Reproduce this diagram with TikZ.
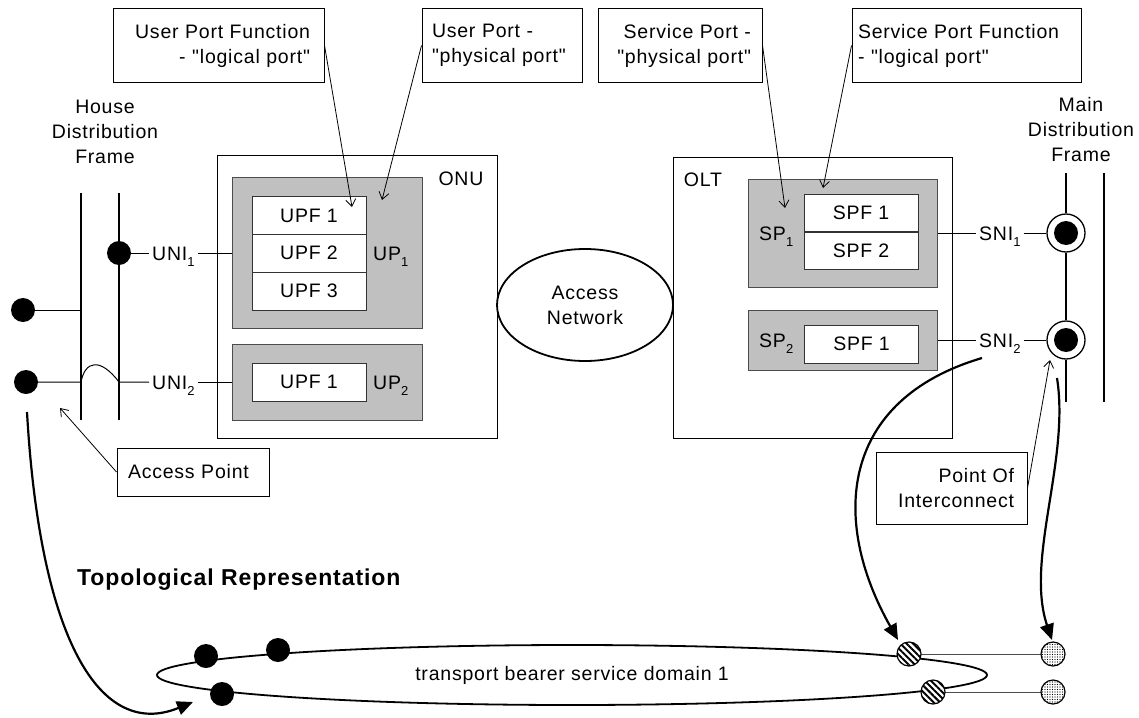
\documentclass[tikz,border=0pt]{standalone}
\usepackage{fontspec}
\setmainfont{Liberation Sans}[LetterSpace=4, Ligatures=TeXOff]
\usetikzlibrary{arrows.meta,shapes.geometric,patterns.meta}
\definecolor{portgray}{HTML}{C0C0C0}
\newcommand{\lowsub}[1]{\raisebox{-6pt}{\fontsize{13}{13}\selectfont #1}}
\begin{document}
\begin{tikzpicture}[x=1pt,y=-1pt,
  font=\fontsize{19.5}{25}\selectfont,
  thinline/.style={line width=1pt},
  callout/.style={draw, line width=1pt, minimum height=73pt, inner ysep=0pt},
  framebox/.style={draw, line width=1pt, inner sep=0pt},
  portbox/.style={draw=black!70, line width=1pt, fill=portgray, inner sep=0pt},
  cell/.style={draw=black!80, line width=1pt, fill=white, minimum width=114pt, minimum height=38pt, inner sep=0pt},
  tag/.style={inner xsep=3pt, inner ysep=0pt, text height=14pt, text depth=0pt},
  bigdot/.style={circle, fill=black, minimum size=24pt, inner sep=0pt},
  ring/.style={circle, draw, line width=1.3pt, fill=white, minimum size=38pt, inner sep=0pt,
    path picture={\fill[black] (path picture bounding box.center) circle (12pt);}},
  hatchdot/.style={circle, draw, line width=1.2pt, minimum size=24pt, inner sep=0pt,
    preaction={fill=white}, pattern={Lines[angle=-45,distance=4.5pt,line width=2pt]}},
  speckdot/.style={circle, draw, line width=1.2pt, minimum size=24pt, inner sep=0pt,
    preaction={fill=white}, pattern={Dots[distance=2.5pt,radius=0.55pt]}},
  pointer/.style={line width=0.8pt, -{Straight Barb[length=7pt,width=10pt]}},
  bigarrow/.style={line width=2.2pt, -{Triangle[length=16pt,width=14pt]}},
  frameline/.style={line width=2.4pt},
]
\useasboundingbox (0,0) rectangle (1139,717);

% callouts at the top
\node[callout, text width=183pt, inner xsep=14pt, align=right] (upfc) at (218.5,45.5) {User Port Function\\- "logical port"};
\node[callout, text width=140pt, inner xsep=10pt, align=left] (upc) at (502,45.5) {User Port -\\"physical port"};
\node[callout, text width=142pt, inner xsep=11pt, align=right] (spc) at (680,45.5) {Service Port -\\"physical port"};
\node[callout, text width=217pt, inner xsep=6pt, align=left] (spfc) at (966.5,45.5) {Service Port Function\\- "logical port"};

% ONU
\node[framebox, minimum width=280pt, minimum height=283pt] (onu) at (357,296.5) {};
\node[tag] (onut) at (461,178) {ONU};
\node[portbox, minimum width=190pt, minimum height=151pt] (up1) at (327,253) {};
\node[cell] (upf11) at (309,215.5) {UPF 1};
\node[cell] (upf12) at (309,253) {UPF 2};
\node[cell] (upf13) at (309,291) {UPF 3};
\node[tag, anchor=west] (up1t) at (370,253) {UP\lowsub{1}};
\node[portbox, minimum width=190pt, minimum height=76pt] (up2) at (327,382) {};
\node[cell] (upf21) at (309,382) {UPF 1};
\node[tag, anchor=west] (up2t) at (370,382) {UP\lowsub{2}};

% OLT
\node[framebox, minimum width=279pt, minimum height=281pt] (olt) at (812.5,297.5) {};
\node[tag] (oltt) at (703,179) {OLT};
\node[portbox, minimum width=189pt, minimum height=108pt] (sp1) at (842.5,233) {};
\node[cell, minimum height=37pt] (spf11) at (861,213) {SPF 1};
\node[cell, minimum height=37pt] (spf12) at (861,250.5) {SPF 2};
\node[tag, anchor=west] (sp1t) at (756,233) {SP\lowsub{1}};
\node[portbox, minimum width=189pt, minimum height=60pt] (sp2) at (842.5,340) {};
\node[cell] (spf21) at (861.5,344) {SPF 1};
\node[tag, anchor=west] (sp2t) at (756,340) {SP\lowsub{2}};

% Access network
\node[ellipse, draw, line width=1.8pt, minimum width=176pt, minimum height=112pt, inner sep=0pt, align=center] (an) at (585,305) {Access\\Network};

% Main distribution frame
\node[align=center] (mdft) at (1081,130) {Main\\Distribution\\Frame};
\node[ring] (r1) at (1066,233) {};
\node[ring] (r2) at (1066,340) {};
\coordinate (m1top) at (1066,173);
\coordinate (m1bot) at (1066,402);
\coordinate (m2top) at (1104,173);
\coordinate (m2bot) at (1104,402);
\draw[frameline] (m1top) -- (r1.north);
\draw[frameline] (r1.south) -- (r2.north);
\draw[frameline] (r2.south) -- (m1bot);
\draw[frameline] (m2top) -- (m2bot);
\node[tag, anchor=west] (sni1) at (976,233) {SNI\lowsub{1}};
\node[tag, anchor=west] (sni2) at (976,340) {SNI\lowsub{2}};
\draw[thinline] (sp1.east) -- (sni1.west);
\draw[thinline] (sni1.east) -- (r1.west);
\draw[thinline] (sp2.east) -- (sni2.west);
\draw[thinline] (sni2.east) -- (r2.west);

% House distribution frame
\node[align=center] (hdft) at (105,132) {House\\Distribution\\Frame};
\coordinate (h1top) at (81,193);
\coordinate (h1bot) at (81,420);
\coordinate (h2top) at (119,193);
\coordinate (h2bot) at (119,420);
\draw[frameline] (h1top) -- (h1bot);
\draw[frameline] (h2top) -- (h2bot);
\node[bigdot] (d1) at (119,253) {};
\node[tag, anchor=west] (uni1) at (149,253) {UNI\lowsub{1}};
\draw[thinline] (d1) -- (uni1.west);
\draw[thinline] (uni1.east) -- (up1.west);
\node[bigdot] (d2) at (23,310) {};
\coordinate (j2) at (81,310);
\draw[thinline] (d2) -- (j2);
\node[bigdot] (d3) at (26,382) {};
\coordinate (j3a) at (81,382);
\coordinate (j3b) at (119,382);
\node[tag, anchor=west] (uni2) at (149,382) {UNI\lowsub{2}};
\draw[thinline] (d3) -- (j3a) .. controls (85,361) and (100,357) .. (j3b) -- (uni2.west);
\draw[thinline] (uni2.east) -- (up2.west);

% Access point and point of interconnect
\node[callout, minimum height=48pt, text width=130pt, inner xsep=11pt, align=left] (ap) at (193,472) {Access Point};
\coordinate (apt) at (60,408);
\draw[pointer] (ap.west) -- (apt);
\node[callout, minimum height=72pt, text width=125pt, inner xsep=13pt, align=right] (poi) at (951.5,488) {Point Of\\Interconnect};
\coordinate (poit) at (1050,360);
\draw[pointer] (poi.east) -- (poit);

% pointers from callouts
\coordinate (upft) at (352,207);
\draw[pointer] (upfc.east) -- (upft);
\coordinate (upt) at (382,200);
\draw[pointer] (upc.west) -- (upt);
\coordinate (spt) at (785,208);
\draw[pointer] (spc.east) -- (spt);
\coordinate (spft) at (823,188);
\draw[pointer] (spfc.west) -- (spft);

% topological representation
\node[inner sep=0pt, anchor=base west, font=\fontsize{23}{28}\selectfont\bfseries] (topo) at (77,585) {Topological Representation};
\node[ellipse, draw, line width=1.8pt, minimum width=830pt, minimum height=60pt, inner sep=0pt] (dom) at (572,675) {transport bearer service domain 1};
\draw[line width=0.9pt, black!70] (909,654) -- (1053,654);
\draw[line width=0.9pt, black!70] (933,692) -- (1053,692);
\node[bigdot] (e1) at (206,656) {};
\node[bigdot] (e2) at (278,650) {};
\node[bigdot] (e3) at (222,694) {};
\node[hatchdot] (hd1) at (909,654) {};
\node[hatchdot] (hd2) at (933,692) {};
\node[speckdot] (sd1) at (1053,654) {};
\node[speckdot] (sd2) at (1053,692) {};

% mapping arrows
\coordinate (a1s) at (27,412);
\coordinate (a1e) at (193,702);
\draw[bigarrow] (a1s) .. controls (40,640) and (100,740) .. (a1e);
\coordinate (a2s) at (982,358);
\coordinate (a2e) at (898,640);
\draw[bigarrow] (a2s) .. controls (840,400) and (830,520) .. (a2e);
\coordinate (a3s) at (1057,378);
\coordinate (a3e) at (1052,640);
\draw[bigarrow] (a3s) .. controls (1070,460) and (1025,560) .. (a3e);
\end{tikzpicture}
\end{document}
